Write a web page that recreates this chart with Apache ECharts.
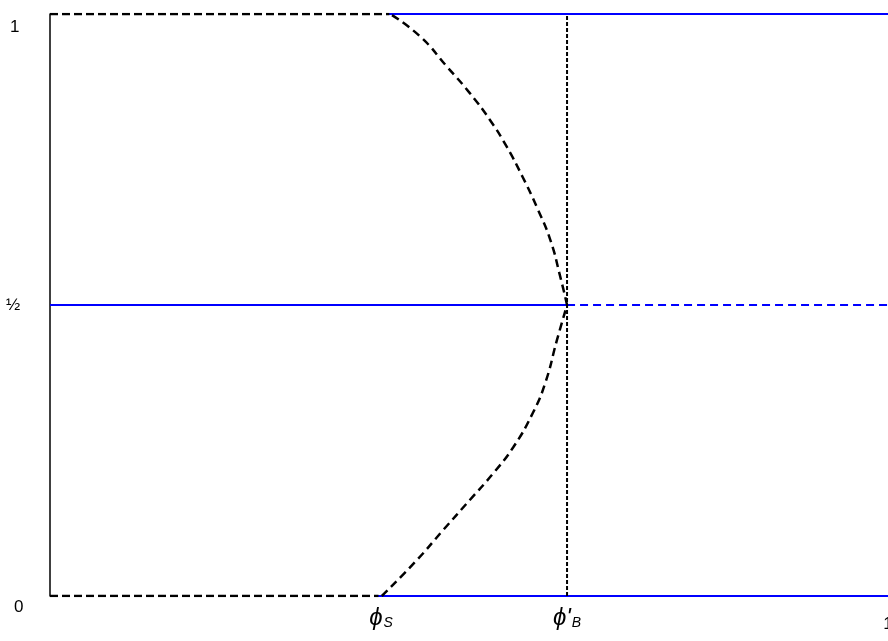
<!DOCTYPE html>
<html>
<head>
<meta charset="utf-8">
<script src="https://cdn.jsdelivr.net/npm/echarts@6/dist/echarts.min.js"></script>
<style>
  html, body { margin: 0; padding: 0; background: #fff; }
  #main_chart { width: 888px; height: 641px; }
</style>
</head>
<body>
<div id="main_chart"></div>
<script>
// tick labels
var xTickValues = [0.395, 0.617, 1];
var xTickLabels = ['{phi|ϕ}{sub|S}', "{phi|ϕ'}{sub|B}", '{one|1}'];
var yTickValues = [0, 0.5, 1];
var yTickLabels = ['{zero|0}', '{half|½}', '{one|1}'];

// lines of the diagram (x, y)
var topDashed = [[0, 1], [0.405, 1]];
var topBlue = [[0.403, 1], [1, 1]];
var midBlue = [[0, 0.5], [0.617, 0.5]];
var midBlueDashed = [[0.617, 0.5], [1, 0.5]];
var bottomDashed = [[0, 0], [0.392, 0]];
var bottomBlue = [[0.388, 0], [1, 0]];
var phiBLine = [[0.617, 0], [0.617, 1]];

// dashed curve, upper and lower branch
var upperCurve = [[0.617, 0.5], [0.609, 0.548], [0.597, 0.612], [0.581, 0.668], [0.564, 0.720],
    [0.545, 0.772], [0.525, 0.818], [0.501, 0.864], [0.474, 0.909], [0.442, 0.961], [0.406, 1]];
var lowerCurve = [[0.396, 0], [0.438, 0.062], [0.469, 0.113], [0.501, 0.165], [0.529, 0.211],
    [0.553, 0.256], [0.576, 0.314], [0.591, 0.366], [0.605, 0.440], [0.617, 0.5]];

function lineSeries(data, color, width, dash, smooth) {
    return {
        type: 'line',
        data: data,
        symbol: 'none',
        smooth: smooth ? 0.5 : false,
        silent: true,
        lineStyle: { color: color, width: width, type: dash || 'solid' },
        z: color === '#000000' ? 3 : 2
    };
}

var option = {
    animation: false,
    grid: {
        top: 14,
        left: 50,
        right: 0,
        bottom: 45,
        outerBoundsMode: 'none'
    },
    xAxis: {
        type: 'value',
        min: 0,
        max: 1,
        axisLine: { show: false },
        axisTick: { show: false },
        splitLine: { show: false },
        axisLabel: {
            customValues: xTickValues,
            margin: 10,
            formatter: function (value) {
                return xTickLabels[xTickValues.indexOf(value)];
            },
            rich: {
                phi: { fontFamily: 'Liberation Sans', fontStyle: 'italic', fontSize: 24, color: '#000' },
                sub: { fontFamily: 'Liberation Sans', fontStyle: 'italic', fontSize: 14, color: '#000',
                    verticalAlign: 'bottom', padding: [8, 0, 0, 1] },
                one: { fontFamily: 'Liberation Sans', fontSize: 17, color: '#000', padding: [10, 0, 0, 0] }
            }
        }
    },
    yAxis: {
        type: 'value',
        min: 0,
        max: 1,
        axisLine: { show: true, lineStyle: { color: '#000', width: 1.5 } },
        axisTick: { show: false },
        splitLine: { show: false },
        axisLabel: {
            customValues: yTickValues,
            margin: 44,
            align: 'left',
            formatter: function (value) {
                return yTickLabels[yTickValues.indexOf(value)];
            },
            rich: {
                one: { fontFamily: 'Liberation Sans', fontSize: 17, color: '#000', padding: [26, 0, 0, 4] },
                half: { fontFamily: 'Liberation Sans', fontSize: 17, color: '#000', padding: [0, 0, 0, 0] },
                zero: { fontFamily: 'Liberation Sans', fontSize: 17, color: '#000', padding: [22, 0, 0, 8] }
            }
        }
    },
    series: [
        lineSeries(topBlue, '#0000ff', 2),
        lineSeries(midBlue, '#0000ff', 2),
        lineSeries(midBlueDashed, '#0000ff', 2, [8, 5]),
        lineSeries(bottomBlue, '#0000ff', 2),
        lineSeries(topDashed, '#000000', 2.5, [8, 4]),
        lineSeries(bottomDashed, '#000000', 2.5, [8, 4]),
        lineSeries(phiBLine, '#000000', 2, [4, 2]),
        lineSeries(upperCurve, '#000000', 2.5, [8, 5], true),
        lineSeries(lowerCurve, '#000000', 2.5, [8, 5], true)
    ]
};
echarts.init(document.getElementById('main_chart')).setOption(option);
</script>
</body>
</html>
